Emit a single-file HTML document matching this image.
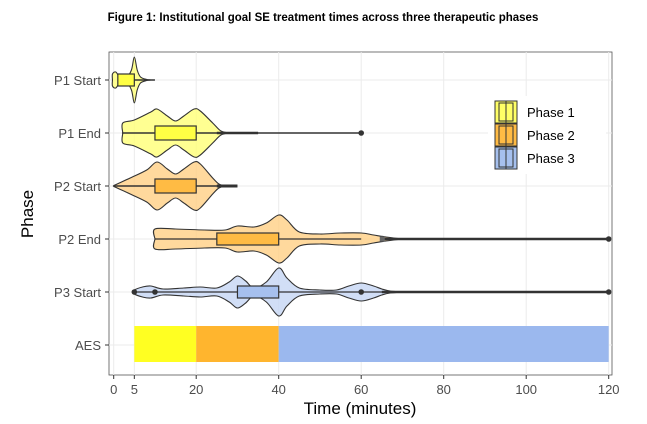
<!DOCTYPE html>
<html><head><meta charset="utf-8"><style>
body{margin:0;background:#fff;width:647px;height:424px;overflow:hidden}
svg{display:block;font-family:"Liberation Sans",sans-serif}
</style></head><body>
<svg id="s" width="647" height="424" xmlns="http://www.w3.org/2000/svg">
<text x="323" y="21" text-anchor="middle" font-size="11.5" font-weight="bold" fill="#000">Figure 1: Institutional goal SE treatment times across three therapeutic phases</text>
<rect x="109" y="52" width="503" height="323" fill="#fff" stroke="#555" stroke-width="0.8"/>
<g id="grid" stroke="#ebebeb" stroke-width="1"></g>
<g id="v"></g>
<g id="aes"></g>
<g font-size="13" fill="#4d4d4d" text-anchor="end">
<text x="101" y="85">P1 Start</text><text x="101" y="138">P1 End</text><text x="101" y="191">P2 Start</text>
<text x="101" y="244">P2 End</text><text x="101" y="297">P3 Start</text><text x="101" y="350">AES</text>
</g>
<g stroke="#333" stroke-width="1"><line x1="105" x2="109" y1="80" y2="80"/><line x1="105" x2="109" y1="133" y2="133"/><line x1="105" x2="109" y1="186" y2="186"/><line x1="105" x2="109" y1="239" y2="239"/><line x1="105" x2="109" y1="292" y2="292"/><line x1="105" x2="109" y1="345" y2="345"/></g>
<g id="xt" font-size="13" fill="#4d4d4d" text-anchor="middle"></g>
<text x="360" y="414" text-anchor="middle" font-size="17" fill="#000">Time (minutes)</text>
<text transform="translate(33,214) rotate(-90)" text-anchor="middle" font-size="17" fill="#000">Phase</text>
<rect x="488" y="96" width="118" height="78" fill="#fff"/>
<g stroke="#333" stroke-width="1">
<rect x="495" y="101" width="22" height="22" fill="#FFFF66"/><rect x="495" y="124" width="22" height="22" fill="#FFBB44"/><rect x="495" y="147" width="22" height="22" fill="#A6C0EE"/>
<rect x="499" y="103" width="14" height="18" fill="none"/><rect x="499" y="126" width="14" height="18" fill="none"/><rect x="499" y="149" width="14" height="18" fill="none"/>
<line x1="506" x2="506" y1="101" y2="169"/>
</g>
<g font-size="13" fill="#000"><text x="527" y="117">Phase 1</text><text x="527" y="140">Phase 2</text><text x="527" y="163">Phase 3</text></g>
</svg>
<script>
const X=t=>113.7+4.125*t;
const NS="http://www.w3.org/2000/svg";
function el(p,tag,a){const e=document.createElementNS(NS,tag);for(const k in a)e.setAttribute(k,a[k]);p.appendChild(e);return e;}
const g=document.getElementById('grid'),xt=document.getElementById('xt'),v=document.getElementById('v'),aes=document.getElementById('aes');
[0,5,20,40,60,80,100,120].forEach(t=>{el(g,'line',{x1:X(t),x2:X(t),y1:52,y2:375});
 el(document.getElementById('s'),'line',{x1:X(t),x2:X(t),y1:375,y2:379,stroke:'#333'});
 const tx=el(xt,'text',{x:X(t),y:394});tx.textContent=t;});
[80,133,186,239,292,345].forEach(y=>el(g,'line',{x1:109,x2:612,y1:y,y2:y}));
el(aes,'rect',{x:X(5),y:326,width:X(20)-X(5),height:36,fill:'#FFFF22'});
el(aes,'rect',{x:X(20),y:326,width:X(40)-X(20),height:36,fill:'#FFB52E'});
el(aes,'rect',{x:X(40),y:326,width:X(120)-X(40),height:36,fill:'#9BB8EE'});
function spline(pts){let d='M'+pts[0][0]+','+pts[0][1];
 for(let i=0;i<pts.length-1;i++){const p0=pts[Math.max(0,i-1)],p1=pts[i],p2=pts[i+1],p3=pts[Math.min(pts.length-1,i+2)];
 d+=` C${p1[0]+(p2[0]-p0[0])/6},${p1[1]+(p2[1]-p0[1])/6} ${p2[0]-(p3[0]-p1[0])/6},${p2[1]-(p3[1]-p1[1])/6} ${p2[0]},${p2[1]}`;}return d;}
function violin(y,prof,fill){const top=prof.map(([t,h])=>[X(t),y-h]);const bot=prof.slice().reverse().map(([t,h])=>[X(t),y+h]);
 let d=spline(top)+' L'+bot[0][0]+','+bot[0][1]+spline(bot).replace(/^M[^C]*/,' ')+'Z';
 el(v,'path',{d:d,fill:fill,'fill-opacity':0.8,stroke:'#333','stroke-width':1.1});}
function line(y,a,b,w){el(v,'line',{x1:X(a),x2:X(b),y1:y,y2:y,stroke:'#333','stroke-width':w||1});}
function box(y,a,b,h,f){el(v,'rect',{x:X(a),y:y-h,width:X(b)-X(a),height:2*h,fill:f,stroke:'#333','stroke-width':1.2});}
function pt(t,y){el(v,'circle',{cx:X(t),cy:y,r:2.8,fill:'#333'});}
const Y='#FFFF77',O='#FFD085',B='#C5D6F4';
violin(80,[[-0.3,0],[-0.3,6],[0.5,8],[1.5,3],[3,2],[4.3,10],[5,23],[5.7,10],[6.5,3],[8,0.5],[9,0]],Y);
line(80,5,10,1.5);box(80,1,5,6,'#FFFF44');
violin(133,[[2.2,0],[2.2,10],[5,13],[9,21],[10.5,24],[13,17],[15,12],[17,17],[19.5,24],[21,22],[24,10],[26,2],[28,0]],Y);
line(133,2,60,1.5);line(133,25,35,2.5);box(133,10,20,7,'#FFFF44');pt(60,133);
violin(186,[[0,0],[0.3,1],[4,8],[8,16],[10.5,24],[13,17],[15,12],[17,17],[19.5,24],[21,22],[24,8],[25.5,2],[27,0]],O);
line(186,0,30,1.5);line(186,25,30,3);box(186,10,20,7,'#FFBB44');
violin(239,[[10,0],[10,10],[15,10],[22,9],[27,9],[30,13],[34,12],[37,16],[40,24],[42,19],[45,7],[50,5],[55,6],[60,6],[63,4],[66,2],[70,0]],O);
line(239,10,60,1.2);line(239,65,120,2.5);box(239,25,40,6,'#FFBB44');pt(120,239);
el(v,'rect',{x:X(64.5),y:236.5,width:5,height:5,fill:'#666'});
violin(292,[[5,0],[5,2],[7,5],[9,6],[12,3],[17,4],[21,5],[25,4],[28,10],[30,16],[32,11],[34,4],[37,10],[40,24],[42,14],[45,4],[50,2],[54,2],[57,6],[60,9],[63,6],[65,3],[67,1],[70,0]],B);
line(292,5,120,1.3);line(292,65,120,2.5);box(292,30,40,6,'#A6C0EE');
pt(5,292);pt(10,292);pt(60,292);pt(120,292);
</script>
</body></html>
